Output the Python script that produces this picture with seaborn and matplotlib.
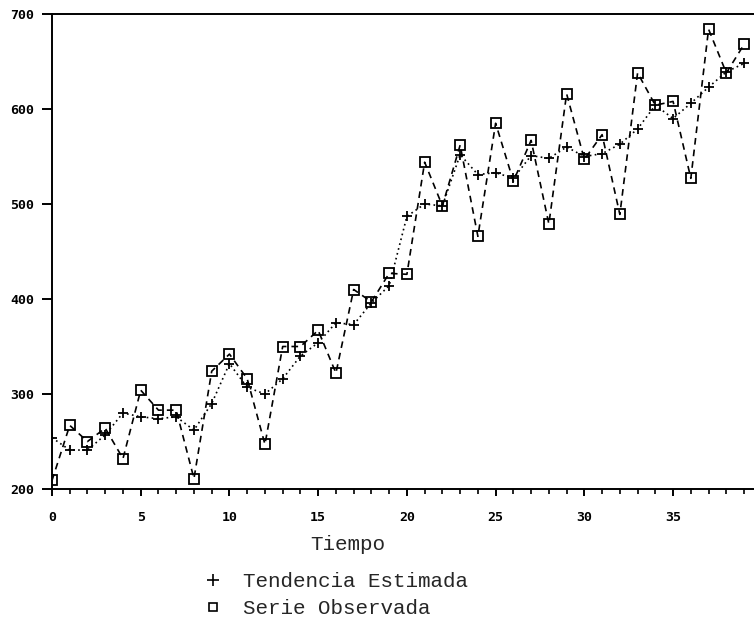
import matplotlib
matplotlib.use('Agg')
import matplotlib.pyplot as plt
import seaborn as sns
import pandas as pd
from matplotlib.lines import Line2D
from matplotlib.ticker import MultipleLocator

tiempo = list(range(40))
observada = [209, 267, 250, 264, 232, 304, 283, 283, 211, 324,
             342, 316, 247, 350, 350, 367, 322, 410, 397, 427,
             426, 544, 498, 562, 466, 585, 524, 567, 479, 616,
             547, 573, 489, 638, 604, 608, 527, 684, 638, 668]
tendencia = [254, 241, 241, 257, 280, 276, 274, 276, 262, 290,
             332, 307, 300, 316, 340, 354, 375, 373, 396, 414,
             487, 500, 498, 552, 531, 533, 527, 551, 548, 560,
             550, 553, 563, 579, 604, 590, 606, 623, 639, 648]
y_ticks = [200, 300, 400, 500, 600, 700]
x_ticks = [0, 5, 10, 15, 20, 25, 30, 35]
x_label = "Tiempo"
lab_tend = "Tendencia Estimada"
lab_obs = "Serie Observada"

df = pd.DataFrame({"t": tiempo, "obs": observada, "tend": tendencia})

sns.set_style("ticks")
plt.rcParams['font.family'] = ['Liberation Mono', 'DejaVu Sans Mono']

fig = plt.figure(figsize=(7.54, 6.2), dpi=100)
ax = fig.add_axes([52/754, 1-489/620, 1-52/754, (489-14)/620])

sns.lineplot(data=df, x="t", y="obs", ax=ax, color='k', lw=1.2,
             linestyle=(0, (4, 3)), marker='s', markersize=6.5,
             markerfacecolor='none', markeredgecolor='k', markeredgewidth=1.3)
sns.lineplot(data=df, x="t", y="tend", ax=ax, color='k', lw=1.2,
             linestyle=(0, (1, 2)), marker='+', markersize=7.5,
             markeredgecolor='k', markeredgewidth=1.3)

ax.set_xlim(0, 39.56)
ax.set_ylim(200, 700)
ax.set_xticks(x_ticks)
ax.set_yticks(y_ticks)
ax.xaxis.set_minor_locator(MultipleLocator(1))
ax.set_xlabel("")
ax.set_ylabel("")
for s in ['left', 'bottom', 'top']:
    ax.spines[s].set_linewidth(1.4)
    ax.spines[s].set_color('k')
ax.spines['right'].set_visible(False)
ax.tick_params(axis='y', which='major', direction='out', length=7, width=1.4, pad=6, colors='k')
ax.tick_params(axis='x', which='major', direction='out', length=5, width=1.4, pad=11, colors='k')
ax.tick_params(axis='x', which='minor', direction='out', length=3.5, width=1.2, colors='k')
for lab in ax.get_xticklabels() + ax.get_yticklabels():
    lab.set_family(['DejaVu Sans Mono'])
    lab.set_fontweight('bold')
    lab.set_fontsize(9.5)

fig.text(348/754, 1-545/620, x_label, ha='center', va='center', fontsize=15,
         family=['Liberation Mono'])

handles = [Line2D([], [], color='k', marker='+', linestyle='none', markersize=8, markeredgewidth=1.2),
           Line2D([], [], color='k', marker='s', linestyle='none', markersize=6,
                  markerfacecolor='none', markeredgewidth=1.2)]
fig.legend(handles, [lab_tend, lab_obs], loc='upper left',
           bbox_to_anchor=(203/754, 1-572/620), frameon=False,
           prop={'family': 'Liberation Mono', 'size': 15},
           borderpad=0, borderaxespad=0, labelspacing=0.38,
           handlelength=1.0, handletextpad=0.9)

fig.savefig("out.png", dpi=100)
